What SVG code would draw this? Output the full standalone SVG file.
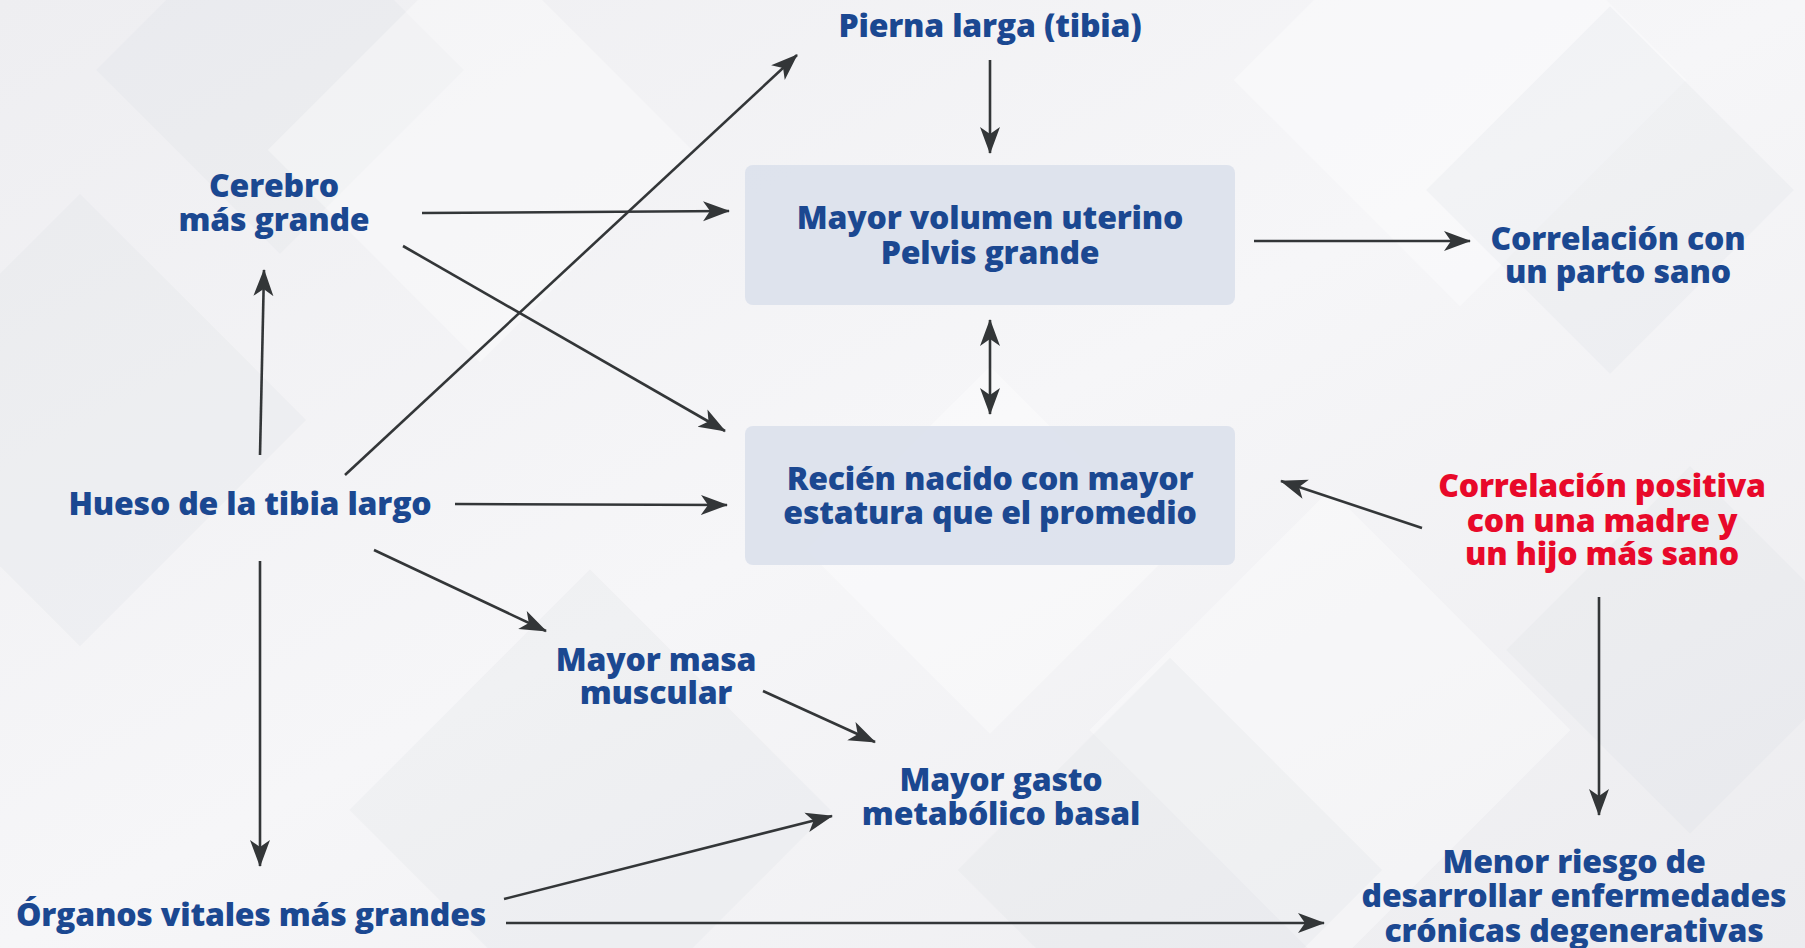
<svg xmlns="http://www.w3.org/2000/svg" width="1805" height="948" viewBox="0 0 1805 948">
<defs>
<style>
.t{font-family:"Open Sans","Noto Sans","Liberation Sans",sans-serif;font-weight:800;font-size:32px;fill:#1b4891;text-anchor:middle;letter-spacing:-0.2px}
.r{fill:#e8092a}
.c{stroke:#333638;stroke-width:2.6;fill:none;marker-end:url(#ah)}
.box{fill:#d9dfeb;fill-opacity:0.85}
.bg{fill:#ffffff;fill-opacity:0.35}
.bd{fill:#dcdde2;fill-opacity:0.22}
</style>
<marker id="ah" markerUnits="userSpaceOnUse" markerWidth="28" markerHeight="22" refX="26" refY="11" orient="auto-start-reverse" viewBox="0 0 28 22">
<path d="M0,1 L27,11 L0,21 L7,11 z" fill="#333638"/>
</marker>
<linearGradient id="g" x1="0" y1="0" x2="1" y2="1">
<stop offset="0" stop-color="#eeeef1"/>
<stop offset="0.5" stop-color="#f6f6f8"/>
<stop offset="1" stop-color="#ececef"/>
</linearGradient>
</defs>
<rect width="1805" height="948" fill="url(#g)"/>
<g id="background">
<rect class="bd" x="150" y="-60" width="260" height="260" transform="rotate(45 280 70)"/>
<rect class="bg" x="330" y="0" width="300" height="300" transform="rotate(45 480 150)"/>
<rect class="bd" x="-80" y="260" width="320" height="320" transform="rotate(45 80 420)"/>
<rect class="bg" x="1300" y="-80" width="320" height="320" transform="rotate(45 1460 80)"/>
<rect class="bd" x="1480" y="60" width="260" height="260" transform="rotate(45 1610 190)"/>
<rect class="bg" x="1160" y="560" width="340" height="340" transform="rotate(45 1330 730)"/>
<rect class="bd" x="1020" y="720" width="300" height="300" transform="rotate(45 1170 870)"/>
<rect class="bd" x="420" y="640" width="340" height="340" transform="rotate(45 590 810)"/>
<rect class="bg" x="860" y="420" width="260" height="260" transform="rotate(45 990 550)"/>
<rect class="bd" x="1560" y="520" width="260" height="260" transform="rotate(45 1690 650)"/>
</g>
<g id="connectors">
<line class="c" x1="990" y1="60" x2="990" y2="153"/>
<line class="c" x1="990" y1="320" x2="990" y2="414" style="marker-start:url(#ah)"/>
<line class="c" x1="422" y1="213" x2="729" y2="211"/>
<line class="c" x1="403" y1="246" x2="725" y2="431"/>
<line class="c" x1="260" y1="455" x2="264" y2="270"/>
<line class="c" x1="345" y1="475" x2="797" y2="55"/>
<line class="c" x1="455" y1="504" x2="727" y2="505"/>
<line class="c" x1="374" y1="550" x2="546" y2="631"/>
<line class="c" x1="260" y1="561" x2="260" y2="866"/>
<line class="c" x1="763" y1="691" x2="875" y2="742"/>
<line class="c" x1="504" y1="899" x2="832" y2="816"/>
<line class="c" x1="506" y1="923" x2="1324" y2="923"/>
<line class="c" x1="1254" y1="241" x2="1470" y2="241"/>
<line class="c" x1="1422" y1="528" x2="1281" y2="481"/>
<line class="c" x1="1599" y1="597" x2="1599" y2="815"/>
</g>
<g id="pierna"><text class="t" x="990" y="37">Pierna larga (tibia)</text></g>
<g id="utero">
<rect class="box" x="745" y="165" width="490" height="140" rx="8"/>
<text class="t" x="990" y="229">Mayor volumen uterino</text>
<text class="t" x="990" y="264">Pelvis grande</text>
</g>
<g id="recien">
<rect class="box" x="745" y="426" width="490" height="139" rx="8"/>
<text class="t" x="990" y="490">Recién nacido con mayor</text>
<text class="t" x="990" y="524">estatura que el promedio</text>
</g>
<g id="cerebro">
<text class="t" x="274" y="197">Cerebro</text>
<text class="t" x="274" y="231">más grande</text>
</g>
<g id="hueso"><text class="t" x="250" y="515">Hueso de la tibia largo</text></g>
<g id="masa">
<text class="t" x="656" y="671">Mayor masa</text>
<text class="t" x="656" y="704">muscular</text>
</g>
<g id="gasto">
<text class="t" x="1001" y="791">Mayor gasto</text>
<text class="t" x="1001" y="825">metabólico basal</text>
</g>
<g id="organos"><text class="t" x="251" y="926">Órganos vitales más grandes</text></g>
<g id="parto">
<text class="t" x="1618" y="250">Correlación con</text>
<text class="t" x="1618" y="283">un parto sano</text>
</g>
<g id="positiva">
<text class="t r" x="1602" y="497">Correlación positiva</text>
<text class="t r" x="1602" y="532">con una madre y</text>
<text class="t r" x="1602" y="565">un hijo más sano</text>
</g>
<g id="menor">
<text class="t" x="1574" y="873">Menor riesgo de</text>
<text class="t" x="1574" y="907">desarrollar enfermedades</text>
<text class="t" x="1574" y="942">crónicas degenerativas</text>
</g>
</svg>
